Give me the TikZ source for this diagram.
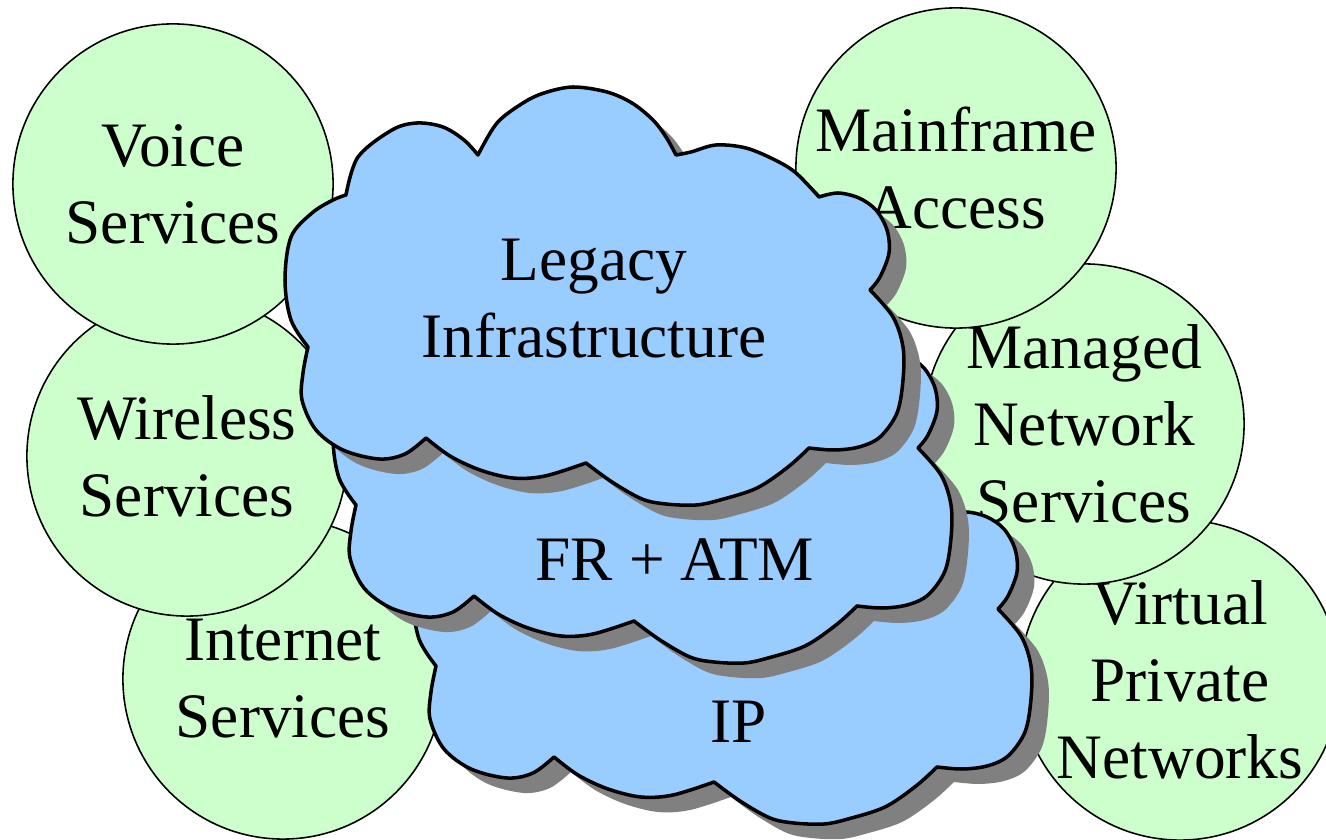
\documentclass[tikz,border=0pt]{standalone}
\usepackage{fontspec}
\setmainfont{Liberation Serif}
\definecolor{svcgreen}{HTML}{CCFFCC}
\definecolor{netblue}{HTML}{99CCFF}
\definecolor{shadowgray}{HTML}{808080}

% one cloud outline, reused for all three layers
\newcommand{\cloudoutline}{%
  plot[smooth,tension=.55] coordinates {(346,195) (358,157) (392,130) (417,123) (443,127) (464,140) (478,155)}
  -- plot[smooth,tension=.55] coordinates {(478,155) (497,123) (523,103) (544,93) (573,87) (607,92) (632,103) (653,120) (666,137) (676,155)}
  -- plot[smooth,tension=.55] coordinates {(676,155) (691,152) (716,145) (746,148) (775,160) (796,173) (819,197)}
  -- plot[smooth,tension=.55] coordinates {(819,197) (838,193) (859,198) (876,210) (887,230) (889,253) (880,277) (870,290)}
  -- plot[smooth,tension=.55] coordinates {(870,290) (893,317) (903,347) (903,380) (897,413) (880,437) (859,447) (834,450) (809,448)}
  -- plot[smooth,tension=.55] coordinates {(809,448) (788,467) (757,488) (720,500) (696,505) (666,504) (642,499) (612,482) (586,463)}
  -- plot[smooth,tension=.55] coordinates {(586,463) (545,476) (513,478) (480,470) (450,456) (426,438)}
  -- plot[smooth,tension=.55] coordinates {(426,438) (405,454) (379,459) (343,450) (316,430) (302,400) (303,373) (308,347)}
  -- plot[smooth,tension=.55] coordinates {(308,347) (291,320) (285,280) (291,237) (312,213) (333,200) (346,195)}
  -- cycle}

\begin{document}
\begin{tikzpicture}[x=0.01cm, y=-0.01cm,
  font=\fontsize{18}{21.9}\selectfont,
  svc/.style={draw, circle, fill=svcgreen, line width=0.45pt, minimum size=3.2cm, inner sep=0pt, align=center},
  cloudline/.style={draw, fill=netblue, line width=1pt, line join=round},
  cloudshadow/.style={fill=shadowgray, shift={(17,15)}}]
  \useasboundingbox (0,0) rectangle (1326,840);

  % services on the left
  \node[svc] (internet) at (283,679) {Internet\\Services};
  \node[svc] (wireless) at (187,456) {Wireless\\Services};
  \node[svc] (voice) at (173,184) {Voice\\Services};

  % services on the right
  \node[svc] (vpn) at (1180,680) {Virtual\\Private\\Networks};
  \node[svc] (managed) at (1084,424) {Managed\\Network\\Services};
  \node[svc] (mainframe) at (956,168) {Mainframe\\Access};

  % network clouds, lowest first
  \begin{scope}[shift={(128,319)}]
    \path[cloudshadow] \cloudoutline;
    \path[cloudline] \cloudoutline;
  \end{scope}
  \node (ip) at (739,722) {IP};

  \begin{scope}[shift={(48,158)}]
    \path[cloudshadow] \cloudoutline;
    \path[cloudline] \cloudoutline;
  \end{scope}
  \node (fratm) at (675,560) {FR + ATM};

  \path[cloudshadow] \cloudoutline;
  \path[cloudline] \cloudoutline;
  \node[align=center] (legacy) at (594,299) {Legacy\\Infrastructure};
\end{tikzpicture}
\end{document}
